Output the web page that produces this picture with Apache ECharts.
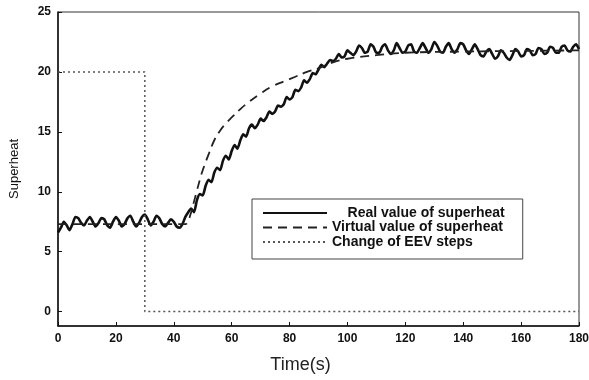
<!DOCTYPE html>
<html>
<head>
<meta charset="utf-8">
<script src="https://cdn.jsdelivr.net/npm/echarts@6/dist/echarts.min.js"></script>
<style>
  html, body { margin: 0; padding: 0; background: #fff; }
  #main { width: 589px; height: 380px; }
</style>
</head>
<body>
<div id="main"></div>
<script>
// time axis, one sample per second (0..180 s)
var realTime = [];
for (var i = 0; i <= 180; i++) realTime.push(i);

var realValue = [
  6.6, 7.0, 7.5, 7.2, 6.8, 7.3, 7.9, 7.8, 7.4, 7.2,
  7.6, 7.9, 7.5, 7.1, 7.4, 7.8, 7.7, 7.2, 7.0, 7.5,
  7.9, 7.6, 7.1, 7.3, 7.8, 8.0, 7.5, 7.1, 7.4, 7.9,
  8.1, 7.7, 7.2, 7.5, 8.0, 7.8, 7.3, 7.1, 7.4, 7.7,
  7.5, 7.1, 7.0, 7.3, 7.9, 8.3, 8.6, 8.3, 9.3, 9.8,
  9.7, 10.5, 11.0, 10.8, 11.6, 12.0, 11.8, 12.6, 13.0, 12.7,
  13.4, 13.9, 13.6, 14.3, 14.8, 14.6, 15.3, 15.6, 15.3, 15.6,
  16.1, 15.9, 16.2, 16.7, 16.5, 16.7, 17.2, 17.1, 17.3, 17.9,
  17.7, 17.9, 18.5, 18.4, 18.7, 19.3, 19.1, 19.4, 19.9, 19.8,
  20.2, 20.6, 20.4, 20.7, 21.0, 20.9, 21.1, 21.5, 21.2, 21.3,
  21.8, 21.6, 21.4, 21.7, 22.2, 22.0, 21.6, 21.7, 22.3, 22.1,
  21.6, 21.6, 22.1, 22.3, 21.8, 21.5, 21.8, 22.4, 22.0, 21.6,
  21.7, 22.2, 22.3, 21.7, 21.6, 22.0, 22.4, 22.0, 21.6, 21.9,
  22.5, 22.2, 21.7, 21.6, 22.1, 22.4, 21.9, 21.6, 21.9, 22.4,
  22.3, 21.8, 21.5, 21.9, 22.3, 21.9, 21.4, 21.3, 21.7, 21.9,
  21.5, 21.1, 21.3, 21.8, 21.6, 21.2, 21.0, 21.4, 21.9, 21.7,
  21.3, 21.4, 21.9, 21.8, 21.4, 21.5, 22.0, 21.9, 21.5, 21.6,
  22.1, 22.0, 21.6, 21.6, 22.1, 22.2, 21.8, 21.7, 22.1, 22.3,
  21.9
];

// virtual (model) superheat
var virtualTime = [0, 44, 45, 46, 47, 48, 49, 50, 52, 54, 56, 58, 60, 63, 66, 70, 74, 78, 82, 86, 90, 95, 100, 110, 120, 140, 160, 180];
var virtualValue = [7.3, 7.3, 7.6, 8.3, 9.2, 10.1, 11.0, 11.8, 13.1, 14.3, 15.1, 15.7, 16.2, 16.9, 17.5, 18.2, 18.8, 19.2, 19.6, 20.0, 20.3, 20.8, 21.1, 21.4, 21.6, 21.7, 21.75, 21.8];

// EEV step change
var eevTime = [0, 30, 30, 180];
var eevValue = [20, 20, 0, 0];

var xTicks = [0, 20, 40, 60, 80, 100, 120, 140, 160, 180];
var yTicks = [0, 5, 10, 15, 20, 25];

function zip(xs, ys) {
  var out = [];
  for (var i = 0; i < xs.length; i++) out.push([xs[i], ys[i]]);
  return out;
}

var myChart = echarts.init(document.getElementById('main'), null, { renderer: 'canvas' });

var labelStyle = { color: '#111', fontSize: 12, fontWeight: 'bold', fontFamily: 'Liberation Sans, Arial, sans-serif' };

var option = {
  backgroundColor: '#fff',
  animation: false,
  grid: {
    left: 58, right: 10, top: 12, bottom: 54,
    outerBoundsMode: 'none',
    show: true, borderColor: '#333', borderWidth: 1
  },
  legend: {
    orient: 'vertical',
    left: 252, top: 199,
    padding: [7, 18, 10, 10],
    itemWidth: 64, itemHeight: 14, itemGap: 0.5,
    borderColor: '#444', borderWidth: 1,
    backgroundColor: '#fff',
    itemStyle: { opacity: 0 },
    textStyle: { color: '#111', fontSize: 14, fontWeight: 'bold', lineHeight: 14, fontFamily: 'Liberation Sans, Arial, sans-serif' },
    formatter: function (name) {
      return name === 'Real value of superheat' ? '    ' + name : name;
    },
    data: ['Real value of superheat', 'Virtual value of superheat', 'Change of EEV steps']
  },
  xAxis: {
    type: 'value', min: 0, max: 180, interval: 20,
    name: 'Time(s)', nameLocation: 'middle', nameGap: 30,
    nameTextStyle: { color: '#222', fontSize: 18, fontWeight: 'lighter', fontFamily: 'Liberation Sans, Arial, sans-serif', padding: [0, 36, 0, 0] },
    axisLine: { onZero: false, lineStyle: { color: '#111', width: 1.5 } },
    axisTick: { inside: true, length: 4, lineStyle: { color: '#111' } },
    axisLabel: Object.assign({ margin: 7, customValues: xTicks }, labelStyle),
    splitLine: { show: false }
  },
  yAxis: {
    type: 'value', min: -1.2, max: 25,
    name: 'Superheat', nameLocation: 'middle', nameGap: 37,
    nameTextStyle: { color: '#111', fontSize: 13, fontFamily: 'Liberation Sans, Arial, sans-serif' },
    axisLine: { onZero: false, lineStyle: { color: '#111', width: 1.5 } },
    axisTick: { inside: true, length: 4, customValues: yTicks, lineStyle: { color: '#111' } },
    axisLabel: Object.assign({ margin: 7, customValues: yTicks }, labelStyle),
    splitLine: { show: false }
  },
  series: [
    {
      name: 'Real value of superheat',
      type: 'line', showSymbol: false, symbol: 'none', smooth: 0.2,
      lineStyle: { color: '#111', width: 2.6 },
      data: zip(realTime, realValue)
    },
    {
      name: 'Virtual value of superheat',
      type: 'line', showSymbol: false, symbol: 'none', smooth: 0.4,
      lineStyle: { color: '#222', width: 1.8, type: [9, 6] },
      data: zip(virtualTime, virtualValue)
    },
    {
      name: 'Change of EEV steps',
      type: 'line', showSymbol: false, symbol: 'none',
      lineStyle: { color: '#555', width: 1.5, type: [2, 3] },
      data: zip(eevTime, eevValue)
    }
  ]
};

myChart.setOption(option);
</script>
</body>
</html>
